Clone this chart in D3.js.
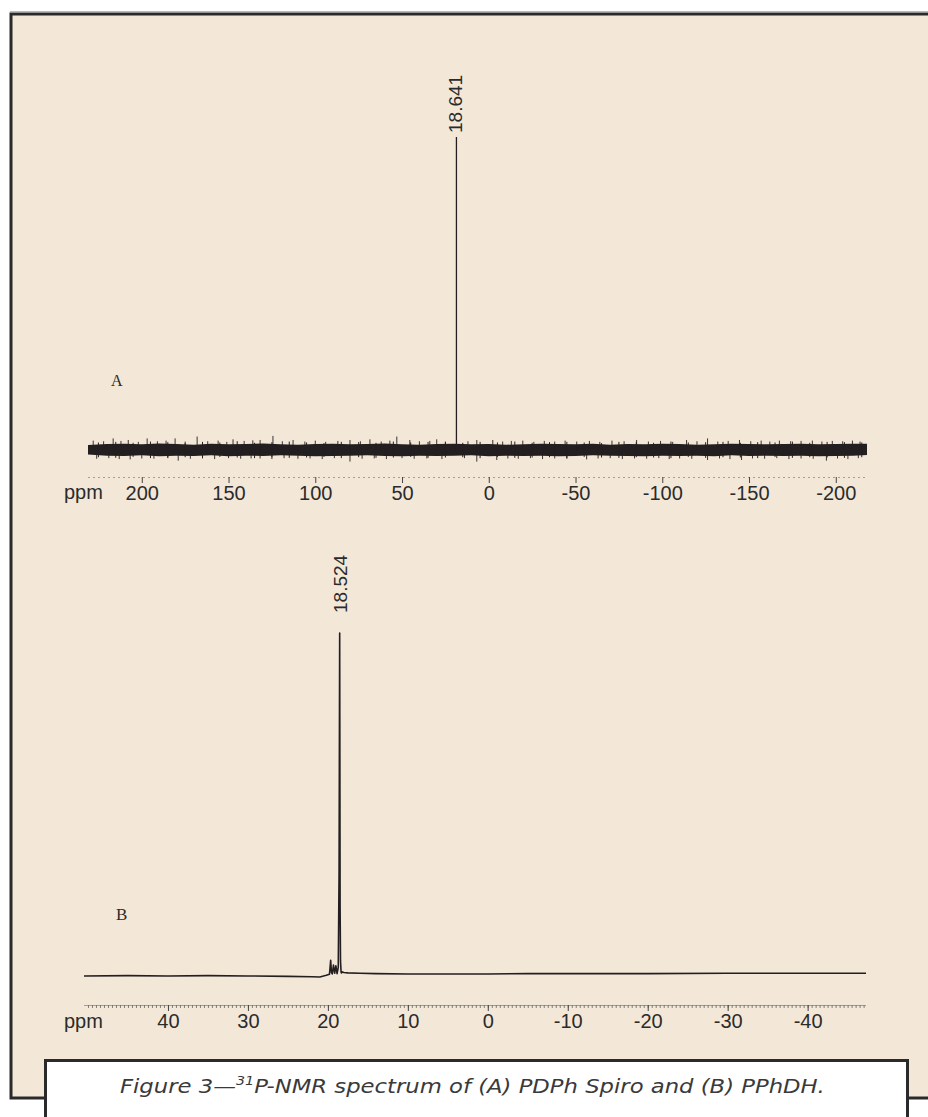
<!DOCTYPE html>
<html>
<head>
<meta charset="utf-8">
<script src="https://d3js.org/d3.v7.min.js"></script>
<style>
  html, body { margin: 0; padding: 0; background: #fff; overflow: hidden; }
  svg { display: block; }
</style>
</head>
<body>
<div id="chart"></div>
<script>
// ---- spectrum A : PDPh Spiro, wide sweep (intensity in % of main peak)
var rangeA = [231, -218];
var ticksA = [200, 150, 100, 50, 0, -50, -100, -150, -200];
var peakA = [18.641, 100];

var bandPpmA = [231, 220, 210, 200, 190, 180, 170, 160, 150, 140, 130, 120, 110, 100, 90, 80, 70, 60, 50, 40,
  30, 20, 10, 0, -10, -20, -30, -40, -50, -60, -70, -80, -90, -100, -110, -120, -130, -140, -150, -160,
  -170, -180, -190, -200, -210, -218];
var bandTopA = [1.6, 1.9, 2.0, 1.8, 2.1, 1.9, 1.7, 2.0, 1.8, 1.9,
  2.1, 1.8, 1.7, 1.9, 2.0, 1.8, 1.9, 2.1, 1.8, 1.7,
  1.9, 2.0, 1.8, 1.9, 1.7, 1.8, 2.0, 1.9, 1.8, 2.0,
  1.7, 1.9, 1.8, 2.0, 1.9, 1.7, 1.8, 2.0, 1.9, 1.8,
  1.9, 2.0, 1.8, 1.9, 2.0, 2.0];
var bandBotA = [-1.4, -1.8, -1.9, -1.7, -2.0, -1.8, -1.9, -1.7, -2.0, -1.8,
  -1.9, -1.7, -1.8, -2.0, -1.9, -1.8, -1.7, -1.9, -2.0, -1.8,
  -1.9, -1.8, -1.7, -2.0, -1.8, -1.9, -1.8, -2.0, -1.9, -1.7,
  -1.8, -1.9, -2.0, -1.8, -1.9, -1.8, -2.0, -1.7, -1.9, -1.8,
  -1.9, -1.8, -2.0, -1.9, -1.8, -1.6];

// noise spikes [ppm, intensity]
var spikesUpA = [[228, 3.0], [222, 2.8], [216.5, 3.7], [212, 2.9], [207.8, 3.2], [202, 2.6], [196.9, 3.7], [191, 2.8],
  [186, 3.0], [180.8, 3.7], [175, 2.7], [168.1, 4.3], [162, 2.8], [156, 3.0], [151, 2.6], [147.4, 3.4], [141, 2.9],
  [136, 3.1], [131.8, 3.2], [124.4, 4.5], [119, 2.8], [112.8, 3.2], [106, 2.7], [100, 3.0], [94, 2.6], [87, 2.9],
  [80, 3.2], [74, 2.8], [68.5, 3.4], [62, 2.7], [57, 3.0], [53, 4.3], [45.5, 3.2], [40, 2.8], [34, 2.9], [30, 3.4],
  [25, 2.7], [12, 2.8], [6.9, 3.2], [-2.3, 3.2], [-8, 2.7], [-13, 2.9], [-19.6, 3.0], [-26, 2.6], [-32, 2.9],
  [-38, 2.7], [-44, 3.0], [-50.7, 2.7], [-58, 2.9], [-64, 2.6], [-71, 3.0], [-78, 2.8], [-85.2, 3.2], [-92, 2.7],
  [-99, 2.9], [-106, 2.6], [-114, 3.2], [-120, 2.8], [-126.1, 3.7], [-132, 2.7], [-138, 2.9], [-144.5, 3.2],
  [-151, 2.8], [-157, 3.0], [-162, 2.7], [-167.5, 3.0], [-174, 2.8], [-180, 2.9], [-186.5, 3.0], [-192, 2.7],
  [-198, 2.9], [-204, 2.8], [-209.6, 3.0], [-214, 2.7]];
var spikesDnA = [[226, -2.8], [219, -2.6], [213, -2.9], [206.7, -3.0], [200, -2.7], [193, -2.8], [185, -2.6],
  [179, -3.4], [172, -2.8], [165, -2.7], [158, -2.9], [150, -2.6], [143, -2.8], [137, -2.7], [131.8, -2.7],
  [125, -2.9], [118, -2.6], [110, -2.8], [103, -2.7], [96, -2.9], [89, -2.6], [80, -3.7], [73, -2.8], [66, -2.7],
  [59, -2.9], [50, -2.6], [43, -2.8], [35.7, -2.7], [27, -2.9], [14, -2.6], [6.9, -3.7], [-4.6, -3.2], [-11, -2.7],
  [-17, -2.8], [-24, -2.6], [-31, -2.9], [-38, -2.7], [-45, -2.8], [-56.4, -3.0], [-63, -2.7], [-70, -2.6],
  [-77, -2.9], [-84, -2.7], [-91, -2.8], [-98, -2.6], [-104, -2.9], [-110, -2.7], [-117, -2.8], [-126.1, -3.2],
  [-133, -2.7], [-139, -2.9], [-145.7, -3.2], [-152, -2.7], [-159, -2.8], [-166, -2.6], [-173, -2.9], [-180, -2.7],
  [-187, -2.8], [-194.6, -3.4], [-201, -2.7], [-207, -2.9], [-213, -2.6]];

// short fuzz on the edges of the noise band
var fuzzPpmA = [225, 215, 205, 195, 185, 175, 165, 155, 145, 135, 125, 115, 105, 95, 85, 75, 65, 55, 45, 35,
  25, 15, 5, -5, -15, -25, -35, -45, -55, -65, -75, -85, -95, -105, -115, -125, -135, -145, -155, -165,
  -175, -185, -195, -205, -215];
var fuzzUpA = [2.4, 2.6, 2.3, 2.7, 2.5, 2.2, 2.6, 2.4, 2.8, 2.3, 2.5, 2.7, 2.4, 2.2, 2.6, 2.5, 2.3, 2.7, 2.4, 2.6,
  2.5, 2.3, 2.6, 2.4, 2.7, 2.3, 2.5, 2.6, 2.4, 2.2, 2.6, 2.5, 2.3, 2.7, 2.4, 2.5, 2.6, 2.3, 2.5, 2.4,
  2.7, 2.3, 2.6, 2.5, 2.4];
var fuzzDnA = [-2.3, -2.5, -2.2, -2.6, -2.4, -2.3, -2.5, -2.2, -2.4, -2.6, -2.3, -2.5, -2.4, -2.2, -2.6, -2.3,
  -2.5, -2.4, -2.2, -2.5, -2.4, -2.3, -2.6, -2.2, -2.5, -2.4, -2.3, -2.6, -2.2, -2.4, -2.5, -2.3, -2.4, -2.6,
  -2.2, -2.5, -2.3, -2.4, -2.6, -2.2, -2.5, -2.3, -2.4, -2.5, -2.3];

// ---- spectrum B : PPhDH, narrow sweep
var rangeB = [50.5, -47.3];
var ticksB = [40, 30, 20, 10, 0, -10, -20, -30, -40];
var peakB = [18.524, 100];
var ppmB = [50.5, 45, 40, 35, 30, 25, 22, 21, 20.2, 19.8, 19.65, 19.55, 19.45, 19.3, 19.15, 19.0, 18.85, 18.7,
  18.6, 18.524, 18.47, 18.42, 18.35, 18.3, 18.2, 18.0, 17.5, 16, 14, 10, 5, 0, -5, -10, -20, -30, -40, -47.3];
var intB = [0, 0.1, 0, 0.1, 0, -0.1, -0.2, -0.3, 0.2, 0.5, 4.6, 1.0, 0.6, 3.2, 0.8, 3.0, 0.7, 2.5,
  30, 100, 20, 4.4, 1.2, 0.9, 1.2, 1.0, 0.9, 0.8, 0.7, 0.6, 0.6, 0.6, 0.7, 0.7, 0.7, 0.8, 0.8, 0.8];

var W = 928, H = 1117;
var ink = '#231f20', beige = '#f3e7d8';

var svg = d3.select('#chart').append('svg')
    .attr('width', W).attr('height', H);

// frame + caption box
svg.append('line').attr('x1', 10).attr('x2', W).attr('y1', 11.5).attr('y2', 11.5)
    .attr('stroke', '#bbb').attr('stroke-width', 1);
svg.append('rect').attr('x', 11).attr('y', 14).attr('width', W + 60).attr('height', 1084)
    .attr('fill', beige).attr('stroke', '#2a2a2a').attr('stroke-width', 3);
svg.append('rect').attr('x', 45.5).attr('y', 1060.5).attr('width', 862).attr('height', 100)
    .attr('fill', '#fff').attr('stroke', '#2a2a2a').attr('stroke-width', 3);

// ---- A
var xA = d3.scaleLinear().domain(rangeA).range([88, 867]);
var yA = d3.scaleLinear().domain([0, 100]).range([450, 137]);
var gA = svg.append('g');

gA.append('path')
    .datum(d3.range(bandPpmA.length))
    .attr('fill', ink)
    .attr('d', d3.area()
        .x(function(i) { return xA(bandPpmA[i]); })
        .y0(function(i) { return yA(bandBotA[i]); })
        .y1(function(i) { return yA(bandTopA[i]); }));

gA.selectAll('line.fuzz')
    .data(d3.range(fuzzPpmA.length))
    .enter().append('line')
    .attr('class', 'fuzz')
    .attr('x1', function(i) { return xA(fuzzPpmA[i]); })
    .attr('x2', function(i) { return xA(fuzzPpmA[i]); })
    .attr('y1', function(i) { return yA(fuzzDnA[i]); })
    .attr('y2', function(i) { return yA(fuzzUpA[i]); })
    .attr('stroke', ink).attr('stroke-width', 1);

gA.selectAll('line.spike')
    .data(spikesUpA.concat(spikesDnA))
    .enter().append('line')
    .attr('class', 'spike')
    .attr('x1', function(d) { return xA(d[0]); })
    .attr('x2', function(d) { return xA(d[0]); })
    .attr('y1', yA(0))
    .attr('y2', function(d) { return yA(d[1]); })
    .attr('stroke', ink).attr('stroke-width', 0.9);

gA.append('line')
    .attr('x1', xA(peakA[0])).attr('x2', xA(peakA[0]))
    .attr('y1', yA(-1)).attr('y2', yA(peakA[1]))
    .attr('stroke', ink).attr('stroke-width', 1.3);

gA.append('text')
    .attr('transform', 'translate(' + (xA(peakA[0]) + 6) + ',' + (yA(peakA[1]) - 4) + ') rotate(-90)')
    .attr('font-family', 'Liberation Sans, Arial, sans-serif').attr('font-size', 19)
    .attr('fill', '#2b2b2b')
    .text(peakA[0].toFixed(3));

gA.append('text').attr('x', 111).attr('y', 386)
    .attr('font-family', 'Liberation Serif, Times New Roman, serif').attr('font-size', 16)
    .attr('fill', '#2b2b2b').text('A');

var axA = svg.append('g').attr('transform', 'translate(0,477)')
    .call(d3.axisBottom(xA).tickValues(ticksA).tickSize(6).tickSizeOuter(0)
        .tickFormat(function(d) { return String(d); }));
styleAxis(axA, '1,4');

svg.append('text').attr('x', 64).attr('y', 499)
    .attr('font-family', 'Liberation Sans, Arial, sans-serif').attr('font-size', 20)
    .attr('fill', '#2b2b2b').text('ppm');

// ---- B
var xB = d3.scaleLinear().domain(rangeB).range([84, 866]);
var yB = d3.scaleLinear().domain([0, 100]).range([976, 633]);
var gB = svg.append('g');

gB.append('path')
    .datum(d3.range(ppmB.length))
    .attr('fill', 'none').attr('stroke', ink).attr('stroke-width', 1.6)
    .attr('stroke-linejoin', 'round')
    .attr('d', d3.line()
        .x(function(i) { return xB(ppmB[i]); })
        .y(function(i) { return yB(intB[i]); }));

gB.append('text')
    .attr('transform', 'translate(' + (xB(peakB[0]) + 7) + ',' + (yB(peakB[1]) - 20) + ') rotate(-90)')
    .attr('font-family', 'Liberation Sans, Arial, sans-serif').attr('font-size', 19)
    .attr('fill', '#2b2b2b')
    .text(peakB[0].toFixed(3));

gB.append('text').attr('x', 116).attr('y', 920)
    .attr('font-family', 'Liberation Serif, Times New Roman, serif').attr('font-size', 17)
    .attr('fill', '#2b2b2b').text('B');

// ruler-like minor ticks every 0.5 ppm
var minorB = d3.range(-47, 50.5, 0.5);
var axBm = svg.append('g').attr('transform', 'translate(0,1005)')
    .call(d3.axisBottom(xB).tickValues(minorB).tickSize(3).tickSizeOuter(0).tickFormat(''));
axBm.select('.domain').attr('stroke', '#555').attr('stroke-dasharray', '1,1');
axBm.selectAll('.tick line').attr('stroke', '#666').attr('stroke-width', 0.8);

var axB = svg.append('g').attr('transform', 'translate(0,1005)')
    .call(d3.axisBottom(xB).tickValues(ticksB).tickSize(6).tickSizeOuter(0)
        .tickFormat(function(d) { return String(d); }));
styleAxis(axB, null);
axB.select('.domain').remove();

svg.append('text').attr('x', 64).attr('y', 1028)
    .attr('font-family', 'Liberation Sans, Arial, sans-serif').attr('font-size', 20)
    .attr('fill', '#2b2b2b').text('ppm');

// ---- caption
var cap = svg.append('text').attr('x', 120).attr('y', 1093)
    .attr('font-family', 'DejaVu Sans, sans-serif').attr('font-style', 'italic')
    .attr('font-size', 19).attr('fill', '#3a3a3a');
cap.append('tspan').text('Figure 3\u2014');
cap.append('tspan').attr('font-size', 12).attr('dy', -8).text('31');
cap.append('tspan').attr('dy', 8).text('P-NMR spectrum of (A) PDPh Spiro and (B) PPhDH.');
// fit the caption to the width it has in the figure
var capW = cap.node().getComputedTextLength();
if (capW > 0) cap.attr('transform', 'translate(120,1093) scale(' + (705 / capW) + ',1) translate(-120,-1093)');

function styleAxis(g, dash) {
    g.select('.domain').attr('stroke', '#555').attr('stroke-width', 1)
        .attr('stroke-dasharray', dash);
    g.selectAll('.tick line').attr('stroke', '#444').attr('stroke-width', 1);
    g.selectAll('.tick text')
        .attr('font-family', 'Liberation Sans, Arial, sans-serif').attr('font-size', 20)
        .attr('fill', '#2b2b2b');
}
</script>
</body>
</html>
